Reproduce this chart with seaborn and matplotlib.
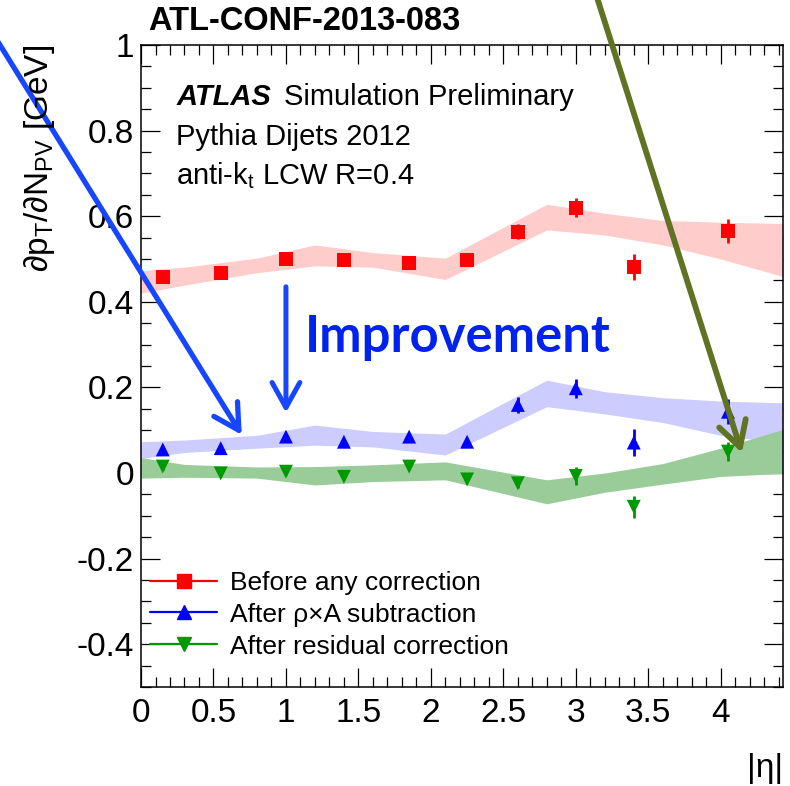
import numpy as np
import pandas as pd
import matplotlib
matplotlib.use("Agg")
import matplotlib.pyplot as plt
from matplotlib.lines import Line2D
from matplotlib.ticker import MultipleLocator, FuncFormatter
import seaborn as sns

# ---- pile-up slope per |eta| bin (jet pT offset per primary vertex) ----
eta = [0.15, 0.55, 1.0, 1.4, 1.85, 2.25, 2.6, 3.0, 3.4, 4.05]

before = [0.457, 0.467, 0.499, 0.498, 0.491, 0.497, 0.564, 0.620, 0.481, 0.566]
before_err = [0.007, 0.007, 0.007, 0.007, 0.007, 0.008, 0.018, 0.022, 0.031, 0.028]

after_rho = [0.055, 0.058, 0.085, 0.073, 0.085, 0.073, 0.159, 0.198, 0.071, 0.143]
after_rho_err = [0.007, 0.007, 0.007, 0.007, 0.007, 0.008, 0.019, 0.022, 0.032, 0.029]

after_res = [0.015, -0.001, 0.003, -0.009, 0.015, -0.015, -0.024, -0.007, -0.079, 0.050]
after_res_err = [0.007, 0.007, 0.007, 0.007, 0.007, 0.008, 0.010, 0.021, 0.026, 0.023]

# ---- in-situ reference bands (lower / upper edge) ----
band_eta = [0.0, 0.3, 0.8, 1.2, 1.6, 2.1, 2.8, 3.2, 3.6, 4.0, 4.43]
before_lo = [0.420, 0.439, 0.468, 0.484, 0.481, 0.452, 0.568, 0.556, 0.533, 0.500, 0.459]
before_hi = [0.473, 0.481, 0.502, 0.533, 0.515, 0.502, 0.628, 0.607, 0.590, 0.586, 0.583]
rho_lo = [0.034, 0.048, 0.058, 0.065, 0.061, 0.042, 0.155, 0.138, 0.118, 0.088, 0.070]
rho_hi = [0.073, 0.077, 0.088, 0.112, 0.097, 0.091, 0.217, 0.190, 0.176, 0.168, 0.164]
res_lo = [-0.012, -0.010, -0.012, -0.028, -0.020, -0.016, -0.072, -0.045, -0.026, -0.008, -0.001]
res_hi = [0.036, 0.020, 0.014, 0.015, 0.019, 0.026, -0.016, 0.000, 0.022, 0.058, 0.102]

labels = ["Before any correction", "After \u03c1\u00d7A subtraction", "After residual correction"]
y_ticks = [-0.4, -0.2, 0.0, 0.2, 0.4, 0.6, 0.8, 1.0]
x_ticks = [0, 0.5, 1, 1.5, 2, 2.5, 3, 3.5, 4]

sns.set_theme(style="ticks")
plt.rcParams["font.family"] = ["Liberation Sans", "DejaVu Sans"]
plt.rcParams["mathtext.fontset"] = "custom"
plt.rcParams["mathtext.rm"] = "Liberation Sans"
plt.rcParams["mathtext.it"] = "Liberation Sans:italic"
plt.rcParams["axes.unicode_minus"] = False
for key in ["text.color", "axes.labelcolor", "xtick.color", "ytick.color", "axes.edgecolor"]:
    plt.rcParams[key] = "black"

colors = ["#ff0000", "#0000ff", "#009900"]
band_colors = ["#ffcccc", "#ccccff", "#99cc99"]
markers = ["s", "^", "v"]

fig = plt.figure(figsize=(7.90, 7.86), dpi=100)
ax = fig.add_axes([0.1785, 0.1260, 0.8127, 0.8167])

# bands
for lo, hi, c in zip([before_lo, rho_lo, res_lo], [before_hi, rho_hi, res_hi], band_colors):
    ax.fill_between(band_eta, lo, hi, color=c, lw=0, zorder=1)

# markers with error bars
df = pd.DataFrame({
    "eta": eta * 3,
    "slope": before + after_rho + after_res,
    "err": before_err + after_rho_err + after_res_err,
    "stage": [labels[0]] * len(eta) + [labels[1]] * len(eta) + [labels[2]] * len(eta),
})
for lab, c in zip(labels, colors):
    sub = df[df["stage"] == lab]
    ax.errorbar(sub["eta"], sub["slope"], yerr=sub["err"], fmt="none",
                ecolor=c, elinewidth=2.0, capsize=0, zorder=3)
sns.scatterplot(data=df, x="eta", y="slope", hue="stage", style="stage",
                hue_order=labels, style_order=labels,
                palette=dict(zip(labels, colors)),
                markers=dict(zip(labels, markers)),
                s=100, edgecolor="none", linewidth=0, legend=False, ax=ax, zorder=4)

ax.set_xlim(0, 4.43)
ax.set_ylim(-0.5, 1.0)
ax.set_xlabel("")
ax.set_ylabel("")
ax.set_xticks(x_ticks)
ax.set_yticks(y_ticks)
fmt = FuncFormatter(lambda v, p: "%g" % round(v, 3))
ax.xaxis.set_major_formatter(fmt)
ax.yaxis.set_major_formatter(fmt)
ax.xaxis.set_minor_locator(MultipleLocator(0.1))
ax.yaxis.set_minor_locator(MultipleLocator(0.05))
ax.tick_params(which="both", direction="in", top=True, right=True, width=0.9, color="black")
ax.tick_params(which="major", length=14, labelsize=24, pad=8)
ax.tick_params(axis="y", which="major", pad=5)
ax.tick_params(which="minor", length=7)
for sp in ax.spines.values():
    sp.set_linewidth(1.1)
    sp.set_color("black")

# legend
handles = [Line2D([0], [0], color=c, marker=m, markersize=10, lw=1.6) for c, m in zip(colors, markers)]
ax.legend(handles, labels, loc="upper left", bbox_to_anchor=(0.014, 0.181), frameon=False,
          fontsize=19, handlelength=2.55, handletextpad=0.5, labelspacing=0.3,
          borderpad=0, borderaxespad=0)

# text annotations
ax.text(0.055, 0.907, "ATLAS", transform=ax.transAxes, fontsize=21, fontweight="bold",
        fontstyle="italic", va="baseline")
ax.text(0.222, 0.907, "Simulation Preliminary", transform=ax.transAxes, fontsize=21,
        va="baseline")
ax.text(0.055, 0.845, "Pythia Dijets 2012", transform=ax.transAxes, fontsize=21, va="baseline")
ax.text(0.055, 0.783, r"anti-k$_{\mathrm{t}}$ LCW R=0.4", transform=ax.transAxes, fontsize=21,
        va="baseline")
ax.text(1.13, 0.283, "Improvement", fontsize=36.5, fontweight="bold", color="#0022ee",
        family=["Lato", "DejaVu Sans"], va="baseline", zorder=6)

fig.text(148 / 790, 1 - 30 / 786, "ATL-CONF-2013-083", fontsize=23.5, fontweight="bold",
         va="baseline", ha="left")
fig.text(40 / 790, 1 - 45 / 786, r"$\mathrm{\partial p_T/\partial N_{PV}}$ [GeV]",
         rotation=90, fontsize=24, va="top", ha="center")
fig.text(783 / 790, 2 / 786, "|\u03b7|", fontsize=24, ha="right", va="bottom")

# arrows
arrow_kw = dict(arrowstyle="->,head_length=0.9,head_width=0.5", shrinkA=0, shrinkB=0)
ax.annotate("", xy=(0.695, 0.089), xytext=(-1.2, 1.124),
            arrowprops=dict(color="#1646ff", lw=3.8, mutation_scale=20, **arrow_kw),
            annotation_clip=False, zorder=6)
ax.annotate("", xy=(1.0, 0.141), xytext=(1.0, 0.435),
            arrowprops=dict(color="#1646ff", lw=3.6, mutation_scale=20, **arrow_kw),
            annotation_clip=False, zorder=6)
ax.annotate("", xy=(4.146, 0.047), xytext=(3.138, 1.12),
            arrowprops=dict(color="#5f7323", lw=4.2, mutation_scale=20, **arrow_kw),
            annotation_clip=False, zorder=6)

fig.savefig("out.png", dpi=100)
